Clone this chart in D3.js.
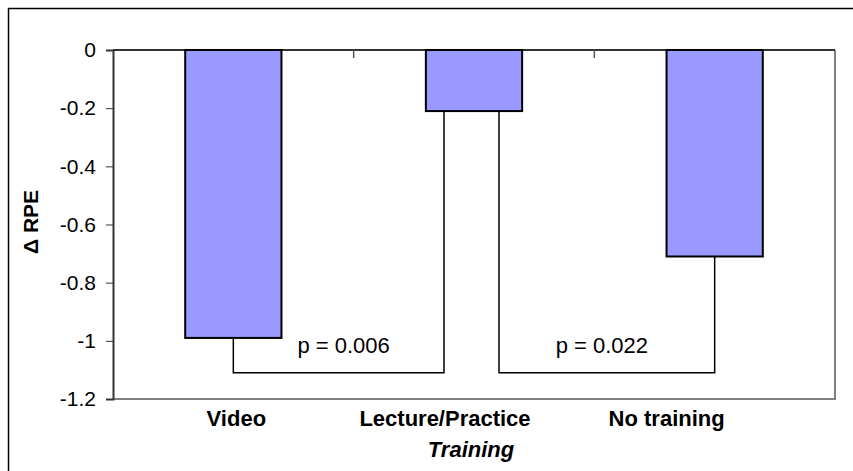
<!DOCTYPE html>
<html>
<head>
<meta charset="utf-8">
<script src="https://cdn.jsdelivr.net/npm/d3@7"></script>
<style>
  body { margin: 0; background: #fff; }
  svg { display: block; font-family: Arial, "Liberation Sans", sans-serif; }
</style>
</head>
<body>
<svg id="chart" width="853" height="471"></svg>
<script>
const categories = ['Video', 'Lecture/Practice', 'No training']
const values = [-0.99, -0.21, -0.71]
const yTicks = [0, -0.2, -0.4, -0.6, -0.8, -1, -1.2]
// brackets: [from category, to category, level, label]
const brackets = [
  {from: 'Video', to: 'Lecture/Practice', level: -1.11, label: 'p = 0.006'},
  {from: 'Lecture/Practice', to: 'No training', level: -1.11, label: 'p = 0.022'}
]

const svg = d3.select('#chart')
let width = 853,
    height = 471,
    margin = {top: 50, bottom: 72, left: 113, right: 18}

// outer frame (only left and top visible)
svg.append('path')
  .attr('d', `M8.5,${height} L8.5,8.5 L${width},8.5`)
  .attr('fill', 'none')
  .attr('stroke', '#000')
  .attr('stroke-width', 1.5)

const x = d3.scaleBand()
  .domain(categories)
  .range([margin.left, width - margin.right])
  .paddingInner(0.6)
  .paddingOuter(0.3)

const xb = d3.scaleBand()
  .domain(categories)
  .range([margin.left, width - margin.right])

const y = d3.scaleLinear()
  .domain([0, -1.2])
  .range([margin.top, height - margin.bottom])

const g = svg.append('g')

// plot area border right + bottom (grey)
g.append('path')
  .attr('d', `M${width - margin.right},${y(0)} L${width - margin.right},${y(-1.2)} L${margin.left},${y(-1.2)}`)
  .attr('fill', 'none')
  .attr('stroke', '#808080')
  .attr('stroke-width', 2)

// left axis
const yAxis = g.append('g')
  .attr('transform', `translate(${margin.left}, 0)`)
  .call(d3.axisLeft(y).tickValues(yTicks).tickSize(7).tickPadding(10)
    .tickFormat(d => d === 0 ? '0' : String(+d.toFixed(1))))
yAxis.select('.domain').attr('stroke', '#333').attr('stroke-width', 2)
yAxis.selectAll('.tick line').attr('stroke', '#333').attr('stroke-width', 1)
yAxis.selectAll('.tick text')
  .attr('font-size', 21)
  .attr('fill', '#000')

// top (zero) axis with category ticks pointing down
const boundaries = categories.slice(1).map(c => xb(c))
g.append('line')
  .attr('x1', margin.left).attr('x2', width - margin.right)
  .attr('y1', y(0)).attr('y2', y(0))
  .attr('stroke', '#333').attr('stroke-width', 2)
g.selectAll('.cattick')
  .data(boundaries)
  .join('line')
  .attr('x1', d => d).attr('x2', d => d)
  .attr('y1', y(0)).attr('y2', y(0) + 8)
  .attr('stroke', '#555').attr('stroke-width', 1.5)

// bars
g.selectAll('.bar')
  .data(values)
  .join('rect')
  .attr('x', (d, i) => x(categories[i]))
  .attr('width', x.bandwidth())
  .attr('y', y(0))
  .attr('height', d => y(d) - y(0))
  .attr('fill', '#9999ff')
  .attr('stroke', '#000')
  .attr('stroke-width', 2)

// brackets
const valueOf = c => values[categories.indexOf(c)]
const cx = c => x(c) + x.bandwidth() / 2
brackets.forEach((b, i) => {
  const x1 = i === 0 ? cx(b.from) : cx(b.from) + 25
  const x2 = i === 0 ? cx(b.to) - 30 : cx(b.to)
  g.append('path')
    .attr('d', `M${x1},${y(valueOf(b.from))} L${x1},${y(b.level)} L${x2},${y(b.level)} L${x2},${y(valueOf(b.to))}`)
    .attr('fill', 'none')
    .attr('stroke', '#000')
    .attr('stroke-width', 1.5)
  g.append('text')
    .attr('x', (x1 + x2) / 2 + (i === 0 ? 5 : -5))
    .attr('y', y(b.level) - 20)
    .attr('text-anchor', 'middle')
    .attr('font-size', 22)
    .text(b.label)
})

// category labels (offset from bar centres as in the original)
const labelShift = [3, -29, -48]
g.selectAll('.catlabel')
  .data(categories)
  .join('text')
  .attr('x', (d, i) => cx(d) + labelShift[i])
  .attr('y', 426)
  .attr('text-anchor', 'middle')
  .attr('font-size', 22)
  .attr('font-weight', 'bold')
  .text(d => d)

// axis titles
svg.append('text')
  .attr('x', 471)
  .attr('y', 457)
  .attr('text-anchor', 'middle')
  .attr('font-size', 22)
  .attr('font-weight', 'bold')
  .attr('font-style', 'italic')
  .text('Training')

svg.append('text')
  .attr('transform', `translate(38, 222) rotate(-90)`)
  .attr('text-anchor', 'middle')
  .attr('font-size', 21)
  .attr('font-weight', 'bold')
  .text('Δ RPE')
</script>
</body>
</html>
